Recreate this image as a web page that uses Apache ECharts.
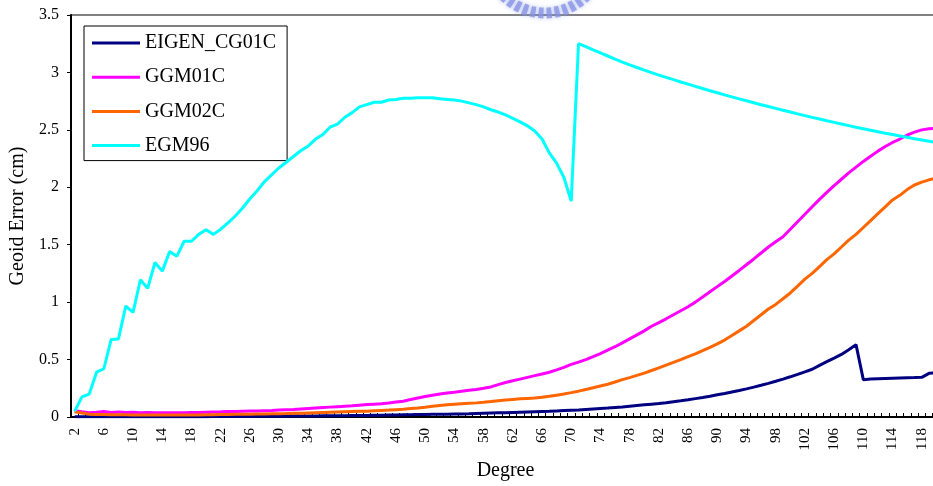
<!DOCTYPE html>
<html>
<head>
<meta charset="utf-8">
<script src="https://cdn.jsdelivr.net/npm/echarts@6/dist/echarts.min.js"></script>
<style>
  html, body { margin: 0; padding: 0; background: #fff; overflow: hidden; }
  /* the plot runs a little past the right edge of the page */
  #chart { width: 945px; height: 486px; }
</style>
</head>
<body>
<div id="chart"></div>
<script>
// Spherical-harmonic degree, 2 .. 120
const degrees = [];
for (let d = 2; d <= 120; d++) degrees.push(String(d));

// Geoid error per degree (cm)
const eigenCG01C = [
  0.003,0.003,0.003,0.003,0.003,0.003,0.003,0.003,0.003,0.003, // 2-11
  0.003,0.003,0.003,0.003,0.003,0.003,0.003,0.003,0.003,0.004, // 12-21
  0.004,0.004,0.005,0.005,0.005,0.006,0.006,0.006,0.007,0.007, // 22-31
  0.008,0.008,0.009,0.009,0.010,0.010,0.011,0.011,0.012,0.013, // 32-41
  0.014,0.015,0.016,0.017,0.018,0.019,0.020,0.021,0.022,0.023, // 42-51
  0.024,0.025,0.026,0.027,0.028,0.030,0.032,0.034,0.036,0.038, // 52-61
  0.040,0.042,0.044,0.046,0.048,0.050,0.053,0.056,0.059,0.062, // 62-71
  0.066,0.070,0.074,0.078,0.083,0.088,0.094,0.100,0.106,0.112, // 72-81
  0.118,0.125,0.133,0.141,0.150,0.160,0.170,0.181,0.193,0.205, // 82-91
  0.218,0.231,0.245,0.260,0.276,0.293,0.311,0.330,0.350,0.371, // 92-101
  0.393,0.416,0.450,0.482,0.513,0.545,0.585,0.630,0.325,0.330, // 102-111
  0.333,0.336,0.338,0.340,0.342,0.343,0.345,0.380,0.385        // 112-120
];
const ggm01C = [
  0.055,0.045,0.038,0.042,0.048,0.040,0.043,0.040,0.042,0.038, // 2-11
  0.040,0.037,0.038,0.036,0.038,0.037,0.040,0.040,0.042,0.044, // 12-21
  0.045,0.047,0.048,0.050,0.052,0.052,0.055,0.057,0.060,0.063, // 22-31
  0.066,0.070,0.074,0.078,0.082,0.086,0.090,0.094,0.098,0.103, // 32-41
  0.108,0.112,0.115,0.122,0.130,0.137,0.152,0.165,0.178,0.190, // 42-51
  0.200,0.208,0.216,0.225,0.233,0.240,0.250,0.262,0.282,0.300, // 52-61
  0.315,0.330,0.345,0.360,0.375,0.390,0.410,0.432,0.458,0.478, // 62-71
  0.500,0.525,0.552,0.582,0.612,0.645,0.680,0.715,0.750,0.790, // 72-81
  0.822,0.855,0.890,0.925,0.960,1.000,1.045,1.090,1.135,1.180, // 82-91
  1.228,1.276,1.326,1.376,1.428,1.480,1.525,1.570,1.635,1.700, // 92-101
  1.765,1.830,1.895,1.955,2.015,2.070,2.125,2.175,2.225,2.270, // 102-111
  2.315,2.355,2.390,2.420,2.455,2.480,2.500,2.510,2.515        // 112-120
];
const ggm02C = [
  0.045,0.035,0.025,0.022,0.022,0.020,0.020,0.019,0.018,0.018, // 2-11
  0.017,0.017,0.017,0.017,0.017,0.017,0.018,0.018,0.019,0.020, // 12-21
  0.021,0.022,0.023,0.024,0.025,0.026,0.027,0.028,0.029,0.030, // 22-31
  0.032,0.033,0.035,0.037,0.039,0.041,0.043,0.045,0.047,0.049, // 32-41
  0.051,0.054,0.057,0.060,0.064,0.068,0.073,0.078,0.085,0.093, // 42-51
  0.100,0.106,0.111,0.115,0.119,0.123,0.128,0.134,0.141,0.148, // 52-61
  0.153,0.158,0.162,0.166,0.172,0.180,0.190,0.200,0.212,0.225, // 62-71
  0.240,0.255,0.270,0.285,0.305,0.325,0.343,0.362,0.382,0.405, // 72-81
  0.428,0.452,0.476,0.500,0.525,0.550,0.578,0.607,0.637,0.670, // 82-91
  0.710,0.750,0.790,0.840,0.890,0.940,0.980,1.030,1.080,1.140, // 92-101
  1.200,1.250,1.310,1.370,1.420,1.480,1.540,1.590,1.650,1.710, // 102-111
  1.770,1.830,1.890,1.930,1.980,2.020,2.045,2.065,2.080        // 112-120
];
const egm96 = [
  0.050,0.175,0.200,0.390,0.420,0.675,0.680,0.965,0.910,1.195, // 2-11
  1.120,1.345,1.270,1.440,1.400,1.530,1.530,1.590,1.630,1.590, // 12-21
  1.635,1.690,1.750,1.820,1.900,1.970,2.050,2.110,2.170,2.220, // 22-31
  2.270,2.320,2.360,2.420,2.460,2.525,2.550,2.610,2.650,2.700, // 32-41
  2.720,2.740,2.740,2.760,2.765,2.775,2.775,2.780,2.780,2.780, // 42-51
  2.770,2.765,2.760,2.750,2.735,2.720,2.700,2.675,2.655,2.630, // 52-61
  2.600,2.570,2.535,2.490,2.420,2.300,2.210,2.085,1.880,3.250, // 62-71
  3.225,3.197,3.170,3.143,3.116,3.090,3.066,3.043,3.020,2.998, // 72-81
  2.977,2.957,2.937,2.917,2.898,2.879,2.860,2.841,2.823,2.805, // 82-91
  2.787,2.770,2.753,2.736,2.719,2.703,2.687,2.671,2.655,2.639, // 92-101
  2.624,2.609,2.594,2.579,2.565,2.551,2.537,2.523,2.510,2.497, // 102-111
  2.484,2.471,2.459,2.447,2.435,2.423,2.412,2.401,2.390        // 112-120
];

const seriesNames = ['EIGEN_CG01C', 'GGM01C', 'GGM02C', 'EGM96'];
const seriesData = [eigenCG01C, ggm01C, ggm02C, egm96];
const seriesColors = ['#000080', '#ff00ff', '#ff6600', '#00ffff'];

const serif = '"Liberation Serif", "Times New Roman", serif';

const chart = echarts.init(document.getElementById('chart'), null, { renderer: 'canvas' });

chart.setOption({
  animation: false,
  backgroundColor: '#ffffff',
  // faint blue emblem peeking in at the top edge
  graphic: [{
    type: 'arc',
    silent: true,
    z: 0,
    shape: { cx: 545, cy: -45, r: 58, startAngle: Math.PI * 0.2, endAngle: Math.PI * 0.8 },
    style: {
      fill: 'none',
      stroke: '#8492e4',
      lineWidth: 11,
      lineDash: [5, 3],
      opacity: 0.75,
      shadowBlur: 4,
      shadowColor: 'rgba(132,146,228,0.8)'
    }
  }],
  grid: {
    left: 71,
    top: 15,
    width: 869,
    height: 403.5,
    show: true,
    borderColor: '#808080',
    borderWidth: 2,
    backgroundColor: 'transparent'
  },
  legend: {
    orient: 'vertical',
    left: 84,
    top: 26,
    data: seriesNames,
    icon: 'rect',
    backgroundColor: '#ffffff',
    borderColor: '#000000',
    borderWidth: 1,
    borderRadius: 0,
    padding: [7, 11, 5, 8],
    itemWidth: 48,
    itemHeight: 3,
    itemGap: 14.2,
    textStyle: {
      fontFamily: serif,
      fontSize: 20,
      lineHeight: 20,
      color: '#000000'
    }
  },
  xAxis: {
    type: 'category',
    data: degrees,
    boundaryGap: true,
    name: 'Degree',
    nameLocation: 'middle',
    nameGap: 44,
    nameTextStyle: { fontFamily: serif, fontSize: 20, color: '#000' },
    axisLine: { lineStyle: { color: '#000', width: 2 } },
    axisTick: { show: true, inside: true, length: 4, interval: 0, lineStyle: { color: '#000', width: 1 } },
    axisLabel: {
      interval: 3,
      rotate: 90,
      margin: 11,
      fontFamily: serif,
      fontSize: 15,
      color: '#000'
    },
    splitLine: { show: false }
  },
  yAxis: {
    type: 'value',
    min: 0,
    max: 3.5,
    interval: 0.5,
    name: 'Geoid Error (cm)',
    nameLocation: 'middle',
    nameGap: 43,
    nameTextStyle: { fontFamily: serif, fontSize: 20, color: '#000' },
    axisLine: { show: true, lineStyle: { color: '#000', width: 2 } },
    axisTick: { show: true, inside: false, length: 4, lineStyle: { color: '#000', width: 1 } },
    axisLabel: { margin: 12, fontFamily: serif, fontSize: 16, color: '#000' },
    splitLine: { show: false }
  },
  series: seriesNames.map((name, i) => ({
    name: name,
    type: 'line',
    data: seriesData[i],
    showSymbol: false,
    symbol: 'none',
    smooth: false,
    lineStyle: { color: seriesColors[i], width: 3 },
    itemStyle: { color: seriesColors[i] },
    z: 2 + i
  }))
});
</script>
</body>
</html>
